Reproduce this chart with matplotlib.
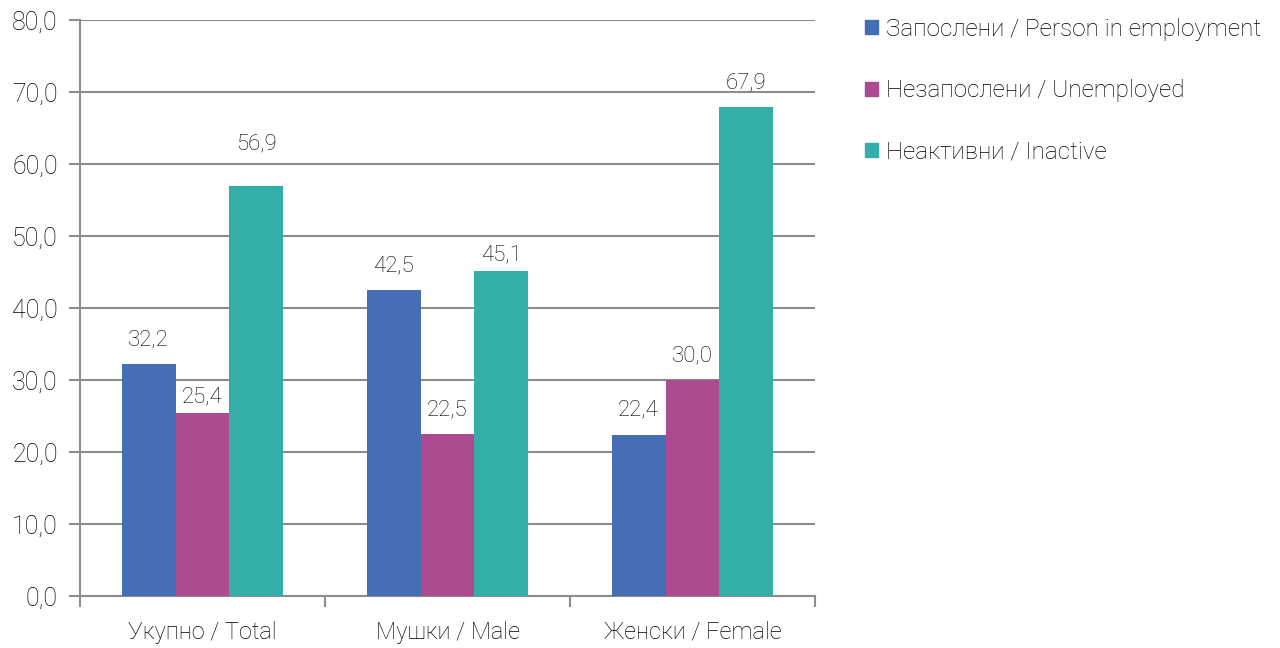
import numpy as np
import matplotlib.pyplot as plt
from matplotlib.patches import Patch

plt.rcParams['font.family'] = ['Roboto', 'DejaVu Sans']
plt.rcParams['font.weight'] = 'light'

categories = ['Укупно / Total', 'Мушки / Male', 'Женски / Female']
series_names = ['Запослени / Person in employment', 'Незапослени / Unemployed', 'Неактивни / Inactive']
employed = [32.2, 42.5, 22.4]
unemployed = [25.4, 22.5, 30.0]
inactive = [56.9, 45.1, 67.9]
yticks = [0, 10, 20, 30, 40, 50, 60, 70, 80]

colors = ['#466EB4', '#AD4B91', '#33AEA9']
grid_col = '#8c8c8c'
txt_col = '#000000'
# label offsets (points) per series / group, as placed in the original
label_off = [[10, 10, 10], [4, 10, 10], [23, 4, 10]]

fig = plt.figure(figsize=(12.8, 6.48), dpi=100)
ax = fig.add_axes([80/1280, 1-596/648, 735/1280, 576/648])

x = np.arange(len(categories)) + 0.5
w = 0.22
for i, (vals, c) in enumerate(zip([employed, unemployed, inactive], colors)):
    pos = x + (i - 1) * w
    ax.bar(pos, vals, width=w, color=c, zorder=3)
    for j, (p, v) in enumerate(zip(pos, vals)):
        ax.annotate(f'{v:.1f}'.replace('.', ','), (p, v), xytext=(0, label_off[i][j]),
                    textcoords='offset points', ha='center', va='bottom',
                    fontsize=16, color=txt_col)

ax.set_xlim(0, 3)
ax.set_ylim(0, 80)
ax.set_yticks(yticks)
ax.set_yticklabels([f'{t:.1f}'.replace('.', ',') for t in yticks], fontsize=18, color=txt_col)
ax.set_xticks([0, 1, 2, 3])
ax.set_xticklabels([])
ax.set_xticks(x, minor=True)
ax.set_xticklabels(categories, minor=True, fontsize=17, color=txt_col)
ax.tick_params(axis='x', which='minor', length=0, pad=18)
ax.tick_params(axis='x', which='major', length=8, width=1.5, color=grid_col)
ax.tick_params(axis='y', length=8, width=1.5, color=grid_col, pad=8)
ax.grid(axis='y', color=grid_col, linewidth=1.5, zorder=0)
for s in ['top', 'right']:
    ax.spines[s].set_visible(False)
for s in ['left', 'bottom']:
    ax.spines[s].set_color(grid_col)
    ax.spines[s].set_linewidth(1.5)

handles = [Patch(color=c) for c in colors]
fig.legend(handles, series_names, loc='upper left', bbox_to_anchor=(843/1280, 1+4/648),
           frameon=False, fontsize=17.5, labelspacing=1.58, handlelength=0.53,
           handleheight=0.53, handletextpad=0.33, labelcolor=txt_col)

fig.savefig('out.png', dpi=100)
